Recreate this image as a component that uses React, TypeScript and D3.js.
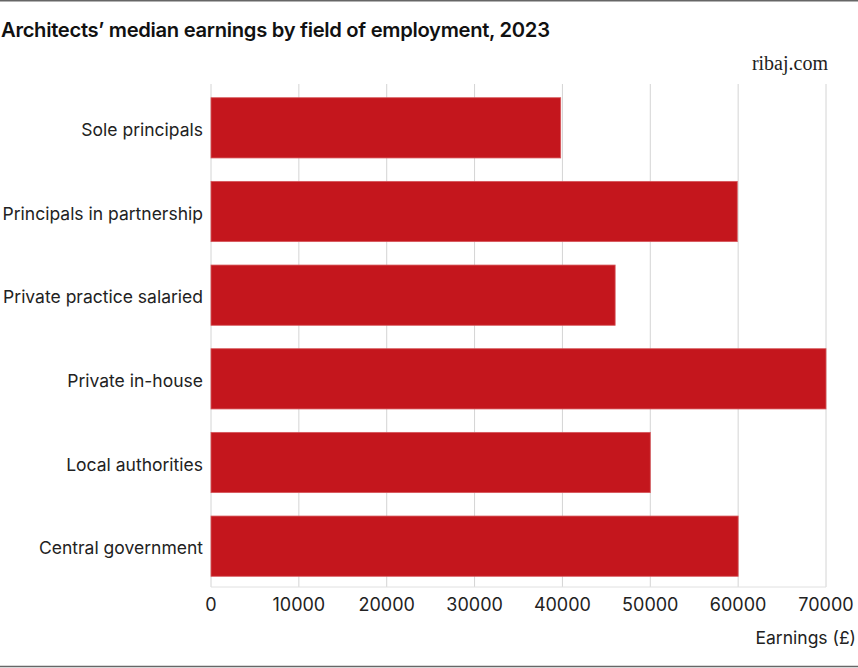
import React from "react";
import * as d3 from "d3";

const categories = [
  "Sole principals",
  "Principals in partnership",
  "Private practice salaried",
  "Private in-house",
  "Local authorities",
  "Central government",
];
const earnings = [39800, 59900, 46000, 70000, 50000, 60000];
const tickValues = [0, 10000, 20000, 30000, 40000, 50000, 60000, 70000];

const W = 858;
const H = 668;
const left = 211;
const right = 826;
const top = 85;
const bottom = 587;

export default function App() {
  const x = d3.scaleLinear().domain([0, 70000]).range([left, right]);
  const y = d3
    .scaleBand<string>()
    .domain(categories)
    .range([top, bottom])
    .paddingInner(0.28)
    .paddingOuter(0.14);
  const font = "Inter, 'Noto Sans', sans-serif";
  return (
    <svg
      width={W}
      height={H}
      style={{ position: "absolute", left: 0, top: 0, background: "#fff" }}
    >
      <line x1={0} x2={W} y1={0.75} y2={0.75} stroke="#666" strokeWidth={1.5} />
      <line x1={0} x2={W} y1={666.5} y2={666.5} stroke="#666" strokeWidth={1.5} />
      <text x={1} y={37} fontFamily={font} fontWeight={600} fontSize={20.2} fill="#111" letterSpacing={-0.3}>
        Architects’ median earnings by field of employment, 2023
      </text>
      <text x={828} y={70} textAnchor="end" fontFamily="'Liberation Serif', 'DejaVu Serif', serif" fontSize={20} fill="#222">
        ribaj.com
      </text>
      {tickValues.map((t) => (
        <line key={"g" + t} x1={x(t)} x2={x(t)} y1={top - 1} y2={bottom} stroke="#d4d4d4" strokeWidth={1} />
      ))}
      <line x1={x(0)} x2={x(70000)} y1={bottom} y2={bottom} stroke="#e0e0e0" strokeWidth={1} />
      {categories.map((c, i) => (
        <rect
          key={c}
          x={x(0)}
          y={y(c)! + 1}
          width={x(earnings[i]) - x(0)}
          height={y.bandwidth()}
          fill="#c4161d"
          stroke="#d6575b"
          strokeWidth={0.8}
        />
      ))}
      {categories.map((c) => (
        <text
          key={"l" + c}
          x={203}
          y={y(c)! + y.bandwidth() / 2 + 3}
          dy="0.35em"
          textAnchor="end"
          fontFamily={font}
          fontSize={17.5}
          fill="#222"
        >
          {c}
        </text>
      ))}
      {tickValues.map((t) => (
        <text
          key={"t" + t}
          x={x(t)}
          y={605}
          dy="0.35em"
          textAnchor="middle"
          fontFamily={font}
          fontSize={18}
          fill="#222"
        >
          {t}
        </text>
      ))}
      <text x={856} y={638} dy="0.35em" textAnchor="end" fontFamily={font} fontSize={17.5} fill="#222">
        Earnings (£)
      </text>
    </svg>
  );
}
